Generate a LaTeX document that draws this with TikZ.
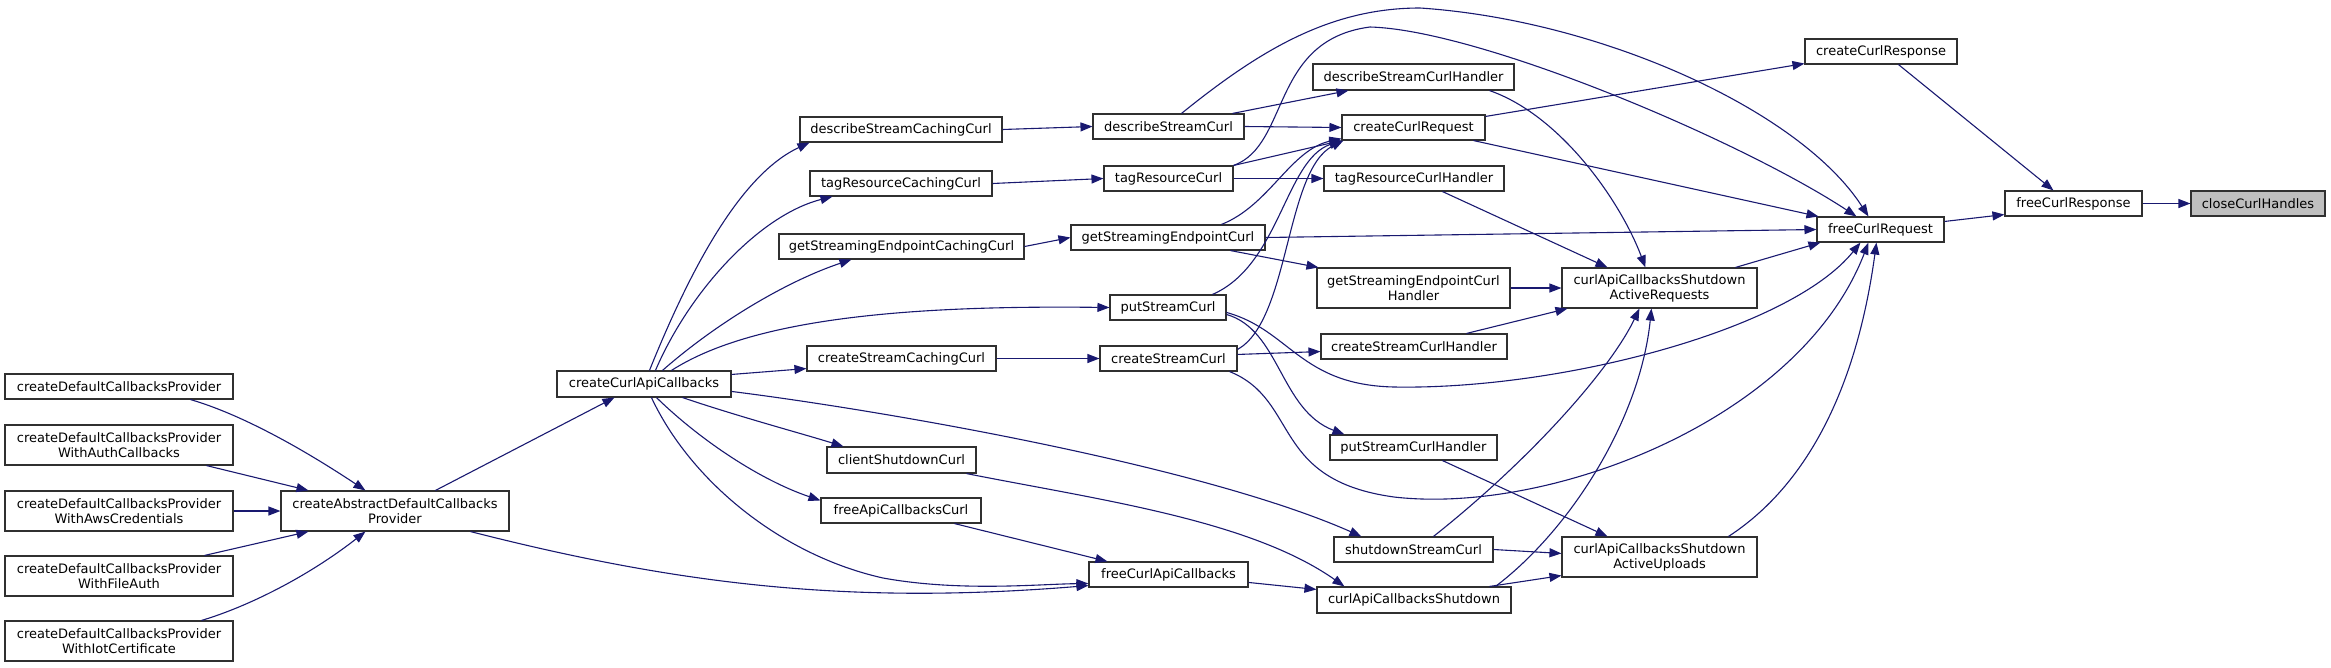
\documentclass[tikz,border=0pt]{standalone}
\usepackage{fontspec}
\setmainfont{DejaVu Sans}
\usetikzlibrary{arrows.meta,calc}
\definecolor{edgec}{HTML}{191970}
\definecolor{boxc}{HTML}{303030}
\definecolor{rootfill}{HTML}{BFBFBF}
\begin{document}
\begin{tikzpicture}[x=1pt,y=-1pt,
  font=\fontsize{13}{15}\selectfont,
  box/.style={draw=boxc,line width=1.1pt,fill=white,inner sep=0pt,align=center},
  conn/.style={draw=edgec,line width=1.1pt,-{Triangle[length=12pt,width=9pt]}}]
\useasboundingbox (0,0) rectangle (2331,667);
% nodes
\node[box,minimum width=228pt,minimum height=25pt] (cdcp) at (119,386.5) {createDefaultCallbacksProvider};
\node[box,minimum width=228pt,minimum height=40pt] (cdcpAuth) at (119,445) {createDefaultCallbacksProvider\\WithAuthCallbacks};
\node[box,minimum width=228pt,minimum height=40pt] (cdcpAws) at (119,511) {createDefaultCallbacksProvider\\WithAwsCredentials};
\node[box,minimum width=228pt,minimum height=40pt] (cdcpFile) at (119,576) {createDefaultCallbacksProvider\\WithFileAuth};
\node[box,minimum width=228pt,minimum height=40pt] (cdcpIot) at (119,641) {createDefaultCallbacksProvider\\WithIotCertificate};
\node[box,minimum width=228pt,minimum height=40pt] (cadcp) at (395,511) {createAbstractDefaultCallbacks\\Provider};
\node[box,minimum width=174pt,minimum height=26pt] (ccac) at (644,384) {createCurlApiCallbacks};
\node[box,minimum width=202pt,minimum height=25pt] (dscc) at (901,129.5) {describeStreamCachingCurl};
\node[box,minimum width=182pt,minimum height=25pt] (trcc) at (901,183.5) {tagResourceCachingCurl};
\node[box,minimum width=245pt,minimum height=25pt] (gsecc) at (901.5,246.5) {getStreamingEndpointCachingCurl};
\node[box,minimum width=189pt,minimum height=25pt] (cscc) at (901.5,358.5) {createStreamCachingCurl};
\node[box,minimum width=149pt,minimum height=26pt] (csc) at (901.5,460) {clientShutdownCurl};
\node[box,minimum width=160pt,minimum height=25pt] (facc) at (901,510.5) {freeApiCallbacksCurl};
\node[box,minimum width=151pt,minimum height=25pt] (dsc) at (1168.5,126.5) {describeStreamCurl};
\node[box,minimum width=129pt,minimum height=25pt] (trc) at (1168.5,178.5) {tagResourceCurl};
\node[box,minimum width=194pt,minimum height=25pt] (gsec) at (1168,237.5) {getStreamingEndpointCurl};
\node[box,minimum width=116pt,minimum height=25pt] (psc) at (1168,307.5) {putStreamCurl};
\node[box,minimum width=137pt,minimum height=25pt] (crsc) at (1168.5,358.5) {createStreamCurl};
\node[box,minimum width=159pt,minimum height=25pt] (fcac) at (1168.5,574.5) {freeCurlApiCallbacks};
\node[box,minimum width=201pt,minimum height=26pt] (dsch) at (1413.5,77) {describeStreamCurlHandler};
\node[box,minimum width=143pt,minimum height=25pt] (ccr) at (1413.5,127.5) {createCurlRequest};
\node[box,minimum width=180pt,minimum height=25pt] (trch) at (1414,178.5) {tagResourceCurlHandler};
\node[box,minimum width=193pt,minimum height=40pt] (gsech) at (1413.5,288) {getStreamingEndpointCurl\\Handler};
\node[box,minimum width=186pt,minimum height=25pt] (crsch) at (1414,346.5) {createStreamCurlHandler};
\node[box,minimum width=167pt,minimum height=25pt] (psch) at (1413.5,447.5) {putStreamCurlHandler};
\node[box,minimum width=159pt,minimum height=25pt] (ssc) at (1413.5,549.5) {shutdownStreamCurl};
\node[box,minimum width=194pt,minimum height=26pt] (cacs) at (1414,600) {curlApiCallbacksShutdown};
\node[box,minimum width=195pt,minimum height=40pt] (car) at (1659.5,288) {curlApiCallbacksShutdown\\ActiveRequests};
\node[box,minimum width=195pt,minimum height=40pt] (cau) at (1659.5,557) {curlApiCallbacksShutdown\\ActiveUploads};
\node[box,minimum width=152pt,minimum height=25pt] (ccresp) at (1881,51.5) {createCurlResponse};
\node[box,minimum width=127pt,minimum height=25pt] (fcreq) at (1880.5,229.5) {freeCurlRequest};
\node[box,minimum width=137pt,minimum height=25pt] (fcresp) at (2073.5,203.5) {freeCurlResponse};
\node[box,fill=rootfill,minimum width=134pt,minimum height=25pt] (cch) at (2258,203.5) {closeCurlHandles};
% edges
\draw[conn] ($(cdcp.south west)+(186,0)$) .. controls (240,414) and (300,447) .. ($(cadcp.north west)+(85,0)$);
\draw[conn] ($(cdcpAuth.south west)+(202,0)$) -- ($(cadcp.north west)+(28,0)$);
\draw[conn] (cdcpAws.east) -- (cadcp.west);
\draw[conn] ($(cdcpFile.north west)+(200,0)$) -- ($(cadcp.south west)+(28,0)$);
\draw[conn] ($(cdcpIot.north west)+(197,0)$) .. controls (250,606) and (310,575) .. ($(cadcp.south west)+(85,0)$);
\draw[conn] ($(cadcp.north west)+(155,0)$) -- ($(ccac.south west)+(58,0)$);
\draw[conn] ($(cadcp.south west)+(190,0)$) .. controls (680,585) and (850,605) .. ($(fcac.south west)+(0,-2)$);
\draw[conn] ($(ccac.north west)+(93,0)$) .. controls (690,270) and (740,175) .. ($(dscc.south west)+(10,0)$);
\draw[conn] ($(ccac.north west)+(99,0)$) .. controls (690,290) and (760,215) .. ($(trcc.south west)+(23,0)$);
\draw[conn] ($(ccac.north west)+(106,0)$) .. controls (720,320) and (790,280) .. ($(gsecc.south west)+(73,0)$);
\draw[conn] ($(ccac.north west)+(115,0)$) .. controls (750,320) and (900,305) .. (psc.west);
\draw[conn] ($(ccac.north east)+(0,4)$) -- ($(cscc.south west)+(0,-3)$);
\draw[conn] ($(ccac.north east)+(0,21)$) .. controls (880,410) and (1200,465) .. ($(ssc.north west)+(28,0)$);
\draw[conn] ($(ccac.south west)+(126,0)$) .. controls (740,417) and (800,433) .. ($(csc.north west)+(17,0)$);
\draw[conn] ($(ccac.south west)+(100,0)$) .. controls (700,440) and (760,480) .. ($(facc.north west)+(0,3)$);
\draw[conn] ($(ccac.south west)+(95,0)$) .. controls (690,480) and (780,555) .. (883,578) .. controls (960,592) and (1040,584) .. ($(fcac.south west)+(0,-4)$);
\draw[conn] (dscc.east) -- (dsc.west);
\draw[conn] (trcc.east) -- (trc.west);
\draw[conn] (gsecc.east) -- (gsec.west);
\draw[conn] (cscc.east) -- (crsc.west);
\draw[conn] ($(csc.south west)+(140,0)$) .. controls (1100,500) and (1250,520) .. ($(cacs.north west)+(28,0)$);
\draw[conn] ($(facc.south west)+(134,0)$) -- ($(fcac.north west)+(19,0)$);
\draw[conn] ($(fcac.north east)+(0,21)$) -- ($(cacs.north west)+(0,3)$);
\draw[conn] ($(cacs.north west)+(173,0)$) -- ($(cau.south west)+(0,-2)$);
\draw[conn] ($(cacs.north west)+(179,0)$) .. controls (1570,530) and (1640,420) .. ($(car.south west)+(90,0)$);
\draw[conn] (ssc.east) -- ($(cau.north west)+(0,17)$);
\draw[conn] ($(ssc.north west)+(100,0)$) .. controls (1530,460) and (1610,370) .. ($(car.south west)+(78,0)$);
\draw[conn] ($(psch.south west)+(113,0)$) -- ($(cau.north west)+(46,0)$);
\draw[conn] ($(crsch.north west)+(146,0)$) -- ($(car.south west)+(6,0)$);
\draw[conn] (gsech.east) -- (car.west);
\draw[conn] ($(trch.south west)+(119,0)$) -- ($(car.north west)+(46,0)$);
\draw[conn] ($(dsch.south west)+(177,0)$) .. controls (1560,115) and (1620,200) .. ($(car.north west)+(84,0)$);
\draw[conn] ($(car.north west)+(174,0)$) -- ($(fcreq.south west)+(4,0)$);
\draw[conn] ($(cau.north west)+(167,0)$) .. controls (1800,490) and (1855,400) .. ($(fcreq.south west)+(60,0)$);
\draw[conn] (dsc.east) -- (ccr.west);
\draw[conn] (trc.north east) -- (ccr.south west);
\draw[conn] ($(gsec.north west)+(151,0)$) .. controls (1270,205) and (1290,150) .. ($(ccr.south west)+(0,-2)$);
\draw[conn] ($(psc.north west)+(103,0)$) .. controls (1280,265) and (1285,160) .. (ccr.south west);
\draw[conn] ($(crsc.north east)+(0,4)$) .. controls (1290,320) and (1285,170) .. ($(ccr.south west)+(2,0)$);
\draw[conn] ($(dsc.north west)+(140,0)$) -- ($(dsch.south west)+(36,0)$);
\draw[conn] (trc.east) -- (trch.west);
\draw[conn] ($(gsec.south west)+(160,0)$) -- ($(gsech.north west)+(2,0)$);
\draw[conn] ($(crsc.north east)+(0,9)$) -- ($(crsch.south west)+(0,-8)$);
\draw[conn] ($(psc.north east)+(0,20)$) .. controls (1280,330) and (1280,410) .. ($(psch.north west)+(15,0)$);
\draw[conn] ($(dsc.north west)+(89,0)$) .. controls (1260,50) and (1330,8) .. (1420,8) .. controls (1600,20) and (1800,110) .. ($(fcreq.north west)+(52,0)$);
\draw[conn] (trc.north east) .. controls (1290,145) and (1270,40) .. (1370,27) .. controls (1480,30) and (1740,140) .. ($(fcreq.north west)+(40,0)$);
\draw[conn] ($(ccr.south west)+(132,0)$) -- ($(fcreq.north west)+(2,0)$);
\draw[conn] (gsec.east) -- (fcreq.west);
\draw[conn] ($(psc.north east)+(0,18)$) .. controls (1290,330) and (1300,385) .. (1394,387) .. controls (1560,390) and (1790,330) .. ($(fcreq.south west)+(44,0)$);
\draw[conn] ($(crsc.south east)+(-8,0)$) .. controls (1300,400) and (1270,480) .. (1394,497) .. controls (1550,515) and (1800,420) .. ($(fcreq.south west)+(52,0)$);
\draw[conn] ($(ccr.north east)+(0,2)$) -- ($(ccresp.south west)+(0,-1)$);
\draw[conn] ($(ccresp.south west)+(94,0)$) -- ($(fcresp.north west)+(49,0)$);
\draw[conn] ($(fcreq.north east)+(0,5)$) -- ($(fcresp.south west)+(0,-2)$);
\draw[conn] (fcresp.east) -- (cch.west);
\end{tikzpicture}
\end{document}
